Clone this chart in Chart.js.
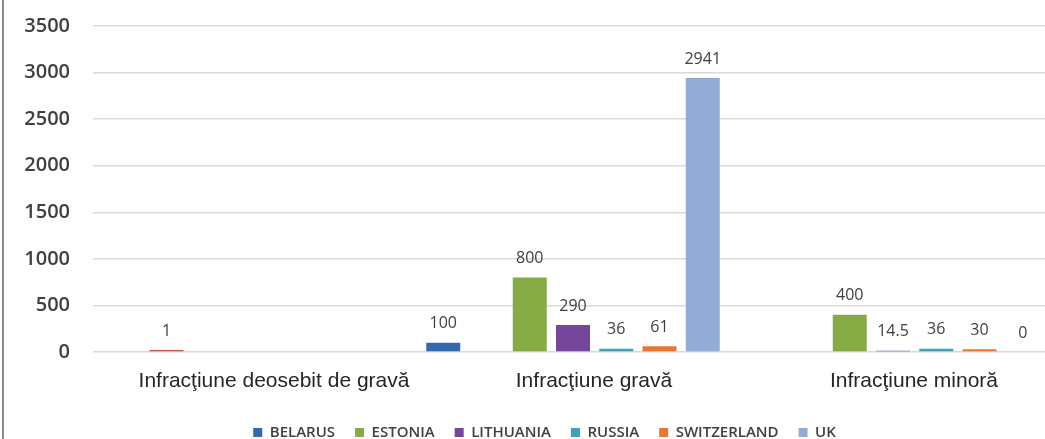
<!DOCTYPE html>
<html>
<head>
<meta charset="utf-8">
<script src="https://cdn.jsdelivr.net/npm/chart.js@4"></script>
<style>
  body { margin: 0; background: #fff; overflow: hidden; }
  #wrap { position: relative; width: 1060px; height: 439px; }
  #frame { position: absolute; left: 2px; top: 0; width: 2px; height: 439px; background: #8c8c8c; }
</style>
</head>
<body>
<div id="wrap">
  <div id="frame"></div>
  <canvas id="chart" width="1060" height="439"></canvas>
</div>
<script>
// Date
const categories = ['Infracţiune deosebit de gravă', 'Infracţiune gravă', 'Infracţiune minoră'];
const belarus = [null, 100, null];
const extra = [1, null, null]; // seria fara legenda (bara rosie)
const estonia = [null, 800, 400];
const lithuania = [null, 290, 14.5];
const russia = [null, 36, 36];
const switzerland = [null, 61, 30];
const uk = [null, 2941, 0];
const yTicks = [0, 500, 1000, 1500, 2000, 2500, 3000, 3500];

function serie(label, data, color) {
    return {
        label: label,
        data: data,
        backgroundColor: color,
        categoryPercentage: 0.946,
        barPercentage: 0.786
    };
}

// Etichetele valorilor deasupra barelor
const valueLabels = {
    id: 'valueLabels',
    afterDatasetsDraw(chart) {
        const ctx = chart.ctx;
        ctx.save();
        ctx.font = '16px "Open Sans"';
        ctx.fillStyle = '#404040';
        ctx.textAlign = 'center';
        ctx.textBaseline = 'middle';
        chart.data.datasets.forEach((ds, i) => {
            const meta = chart.getDatasetMeta(i);
            meta.data.forEach((bar, j) => {
                const v = ds.data[j];
                if (v === null || v === undefined) return;
                ctx.fillText(String(v), bar.x, bar.y - 19);
            });
        });
        ctx.restore();
    }
};

// Legenda putin mutata (spre dreapta si in jos), ca in original
const legendShift = {
    id: 'legendShift',
    beforeDraw(chart) {
        const lg = chart.legend;
        if (!lg || lg._shifted) return;
        const orig = lg.draw.bind(lg);
        lg.draw = function () {
            chart.ctx.save();
            chart.ctx.translate(18, 13);
            orig();
            chart.ctx.restore();
        };
        lg._shifted = true;
    }
};

const redSeries = serie('', extra, '#c0504d');
redSeries.minBarLength = 2;

const ctx = document.getElementById('chart').getContext('2d');

new Chart(ctx, {
    type: 'bar',
    data: {
        labels: categories,
        datasets: [
            serie('BELARUS', belarus, '#3469b0'),
            redSeries,
            serie('ESTONIA', estonia, '#86ab45'),
            serie('LITHUANIA', lithuania, '#74479b'),
            serie('RUSSIA', russia, '#3ea1b7'),
            serie('SWITZERLAND', switzerland, '#e8782f'),
            serie('UK', uk, '#93acd6')
        ]
    },
    options: {
        responsive: false,
        animation: false,
        devicePixelRatio: 1,
        layout: { padding: { top: 26, right: 7, bottom: 2, left: 0 } },
        scales: {
            x: {
                afterFit: (scale) => { scale.height = 40; },
                grid: { display: false, drawTicks: false },
                border: { display: false },
                ticks: {
                    font: { family: '"Liberation Sans", Arial', size: 21 },
                    color: '#262626',
                    labelOffset: 21,
                    padding: 17,
                    maxRotation: 0
                }
            },
            y: {
                min: 0,
                max: 3500,
                afterFit: (scale) => {
                    scale.width = 93;
                    scale.paddingTop = 0;
                    scale.paddingBottom = 0;
                },
                afterBuildTicks: (scale) => { scale.ticks = yTicks.map(v => ({ value: v })); },
                border: { display: false },
                grid: { color: '#d9d9d9', lineWidth: 1.5, drawTicks: false },
                ticks: {
                    font: { family: '"Open Sans"', size: 20, weight: '600' },
                    color: '#404040',
                    padding: 23,
                    callback: (v) => String(v)
                }
            }
        },
        plugins: {
            legend: {
                position: 'bottom',
                labels: {
                    boxWidth: 9,
                    boxHeight: 9,
                    padding: 20,
                    color: '#404040',
                    font: { family: '"Open Sans"', size: 15, weight: '600' },
                    filter: (item) => item.text !== ''
                }
            },
            tooltip: { enabled: false }
        }
    },
    plugins: [valueLabels, legendShift]
});
</script>
</body>
</html>
